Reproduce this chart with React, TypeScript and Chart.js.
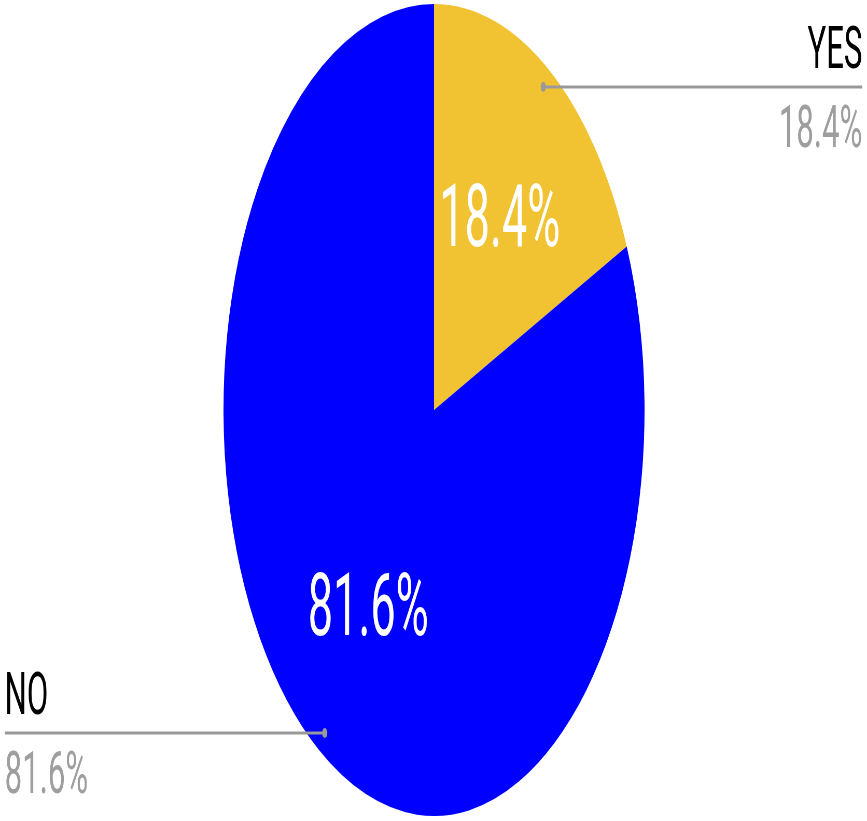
import React, { useEffect, useRef } from "react";
import { Chart, registerables } from "chart.js";

Chart.register(...registerables);

const categories = ["YES", "NO"];
const values = [18.4, 81.6];
const colors = ["#f1c232", "#0000ff"];

const DISPLAY_W = 867;
const DISPLAY_H = 821;
const STRETCH = 1.929; // internal/horizontal display ratio
const INTERNAL_W = Math.round(DISPLAY_W * STRETCH);

const labelPlugin = {
  id: "pieLabels",
  afterDraw(chart: any) {
    const ctx = chart.ctx;
    const meta = chart.getDatasetMeta(0);
    const data = chart.data.datasets[0].data as number[];
    const total = data.reduce((a, b) => a + b, 0);
    const W = chart.width;
    ctx.save();
    meta.data.forEach((arc: any, i: number) => {
      const { x, y, startAngle, endAngle, outerRadius } = arc.getProps(
        ["x", "y", "startAngle", "endAngle", "outerRadius"],
        true
      );
      const mid = (startAngle + endAngle) / 2;
      const cos = Math.cos(mid);
      const sin = Math.sin(mid);
      const pct = ((data[i] / total) * 100).toFixed(1) + "%";

      // inner label
      const innerSize = 87;
      const ix = x + cos * outerRadius * 0.572;
      const iy = y + sin * outerRadius * 0.572;
      ctx.font = `${innerSize}px Roboto`;
      ctx.fillStyle = "#ffffff";
      ctx.textAlign = "center";
      ctx.textBaseline = "alphabetic";
      ctx.fillText(pct, ix, iy + innerSize * 0.711 / 2);

      // leader line
      const dx = x + cos * outerRadius * 0.95;
      const dy = y + sin * outerRadius * 0.95;
      const right = cos >= 0;
      const ex = right ? W - 9 : 9;
      ctx.strokeStyle = "#999999";
      ctx.lineWidth = 3;
      ctx.beginPath();
      ctx.moveTo(dx, dy);
      ctx.lineTo(ex, dy);
      ctx.stroke();
      ctx.fillStyle = "#999999";
      ctx.beginPath();
      ctx.arc(dx, dy, 5, 0, Math.PI * 2);
      ctx.fill();

      // outside labels
      const outSize = 60;
      ctx.textAlign = right ? "right" : "left";
      ctx.font = `${outSize}px Roboto`;
      ctx.fillStyle = "#000000";
      ctx.fillText(chart.data.labels[i], ex, dy - 19);
      ctx.fillStyle = "#9e9e9e";
      ctx.fillText(pct, ex, dy + 60);
    });
    ctx.restore();
  },
};

export default function App() {
  const ref = useRef<HTMLCanvasElement | null>(null);
  useEffect(() => {
    if (!ref.current) return;
    const chart = new Chart(ref.current, {
      type: "pie",
      data: {
        labels: categories,
        datasets: [
          {
            data: values,
            backgroundColor: colors,
            borderWidth: 0,
          },
        ],
      },
      options: {
        responsive: false,
        animation: false,
        devicePixelRatio: 1,
        layout: { padding: { top: 4, bottom: 5, left: 2, right: 0 } },
        plugins: {
          legend: { display: false },
          tooltip: { enabled: false },
        },
      },
      plugins: [labelPlugin],
    });
    return () => chart.destroy();
  }, []);
  return (
    <div style={{ position: "fixed", left: 0, top: 0, width: DISPLAY_W, height: DISPLAY_H, background: "#fff" }}>
      <canvas
        ref={ref}
        width={INTERNAL_W}
        height={DISPLAY_H}
        style={{ width: DISPLAY_W + "px", height: DISPLAY_H + "px", display: "block" }}
      />
    </div>
  );
}
